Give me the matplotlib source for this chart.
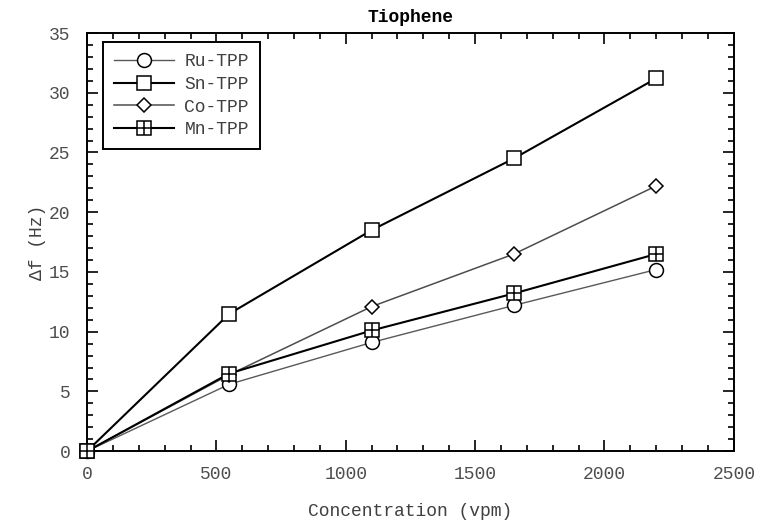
import matplotlib
matplotlib.use("Agg")
import matplotlib.pyplot as plt
import matplotlib.ticker as ticker

# ── data ─────────────────────────────────────────────────────────────────────
conc   = [0, 550, 1100, 1650, 2200]
ru_tpp = [0, 5.6, 9.1, 12.2, 15.2]
sn_tpp = [0, 11.5, 18.5, 24.5, 31.2]
co_tpp = [0, 6.4, 12.1, 16.5, 22.2]
mn_tpp = [0, 6.5, 10.1, 13.2, 16.5]

plt.rcParams["font.family"] = ["Liberation Mono", "DejaVu Sans Mono"]

fig = plt.figure(figsize=(7.6, 5.24), dpi=100)
ax = fig.add_axes([0.1145, 0.139, 0.851, 0.798])

mk = dict(markersize=10, markerfacecolor="white", markeredgecolor="black",
          markeredgewidth=1.1, clip_on=False, zorder=3)

h_ru, = ax.plot(conc, ru_tpp, color="0.35", lw=1.0, marker="o", **mk)
h_sn, = ax.plot(conc, sn_tpp, color="black", lw=1.5, marker="s", **mk)
h_co, = ax.plot(conc, co_tpp, color="0.3", lw=1.1, marker="D",
                markersize=7.5, markerfacecolor="white", clip_on=False,
                markeredgecolor="black", markeredgewidth=1.1, zorder=3)
h_mn, = ax.plot(conc, mn_tpp, color="black", lw=1.5, marker="s", **mk)
h_mn2, = ax.plot(conc, mn_tpp, ls="none", marker="+", markersize=10,
                 markeredgecolor="black", markeredgewidth=1.1,
                 clip_on=False, zorder=4)

ax.set_xlim(0, 2500)
ax.set_ylim(0, 35)
ax.xaxis.set_major_locator(ticker.MultipleLocator(500))
ax.xaxis.set_minor_locator(ticker.MultipleLocator(100))
ax.yaxis.set_major_locator(ticker.MultipleLocator(5))
ax.yaxis.set_minor_locator(ticker.MultipleLocator(1))
ax.tick_params(which="both", direction="in", top=True, right=True,
               labelsize=13, width=1.2, labelcolor="0.3")
ax.tick_params(axis="y", which="major", length=8, pad=12)
ax.tick_params(axis="x", which="major", length=8, pad=11)
ax.tick_params(which="minor", length=4)
for s in ax.spines.values():
    s.set_linewidth(1.4)

ax.set_title("Tiophene", fontsize=13, fontweight="bold", pad=8)
ax.set_xlabel("Concentration (vpm)", fontsize=13, labelpad=14, color="0.25")
ax.set_ylabel("\u0394f (Hz)", fontsize=13, labelpad=2, color="0.25")

leg = ax.legend([h_ru, h_sn, h_co, (h_mn, h_mn2)],
                ["Ru-TPP", "Sn-TPP", "Co-TPP", "Mn-TPP"],
                loc="upper left", bbox_to_anchor=(0.025, 0.978),
                fontsize=13, handlelength=3.3, fancybox=False, framealpha=1,
                edgecolor="black", labelspacing=0.32, borderpad=0.6,
                handletextpad=0.6, borderaxespad=0)
leg.get_frame().set_linewidth(1.4)
for t in leg.get_texts():
    t.set_color("0.25")

fig.savefig("out.png", dpi=100)
